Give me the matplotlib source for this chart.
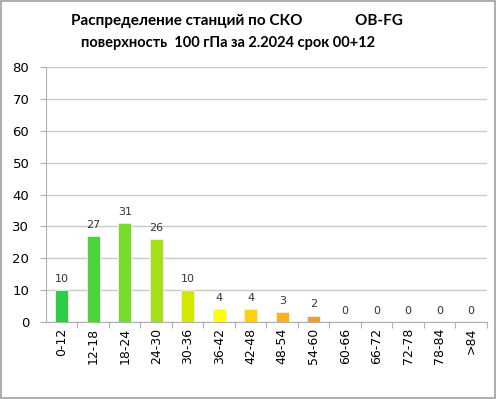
import matplotlib.pyplot as plt

categories = ["0-12", "12-18", "18-24", "24-30", "30-36", "36-42", "42-48",
              "48-54", "54-60", "60-66", "66-72", "72-78", "78-84", ">84"]
counts = [10, 27, 31, 26, 10, 4, 4, 3, 2, 0, 0, 0, 0, 0]
colors = ["#2ecc47", "#4cd43c", "#77dd2a", "#a3e01a", "#d4e800", "#ffff00",
          "#ffd010", "#ffb020", "#ff9a2a", "#ff7a30", "#ff5a30", "#ff3a30",
          "#f02020", "#e01010"]

fig = plt.figure(figsize=(4.96, 3.99), dpi=100)
ax = fig.add_axes([0.0927, 0.193, 0.889, 0.639])

x = range(len(categories))
ax.bar(x, counts, width=0.42, color=colors, edgecolor="#f0f0f0", linewidth=0.6, zorder=3)
for i, v in enumerate(counts):
    ax.text(i, v + 2, str(v), ha="center", va="bottom", fontsize=8, color="#333333")

ax.set_xlim(-0.5, len(categories) - 0.5)
ax.set_ylim(0, 80)
ax.set_yticks(range(0, 81, 10))
ax.set_xticks([i + 0.5 for i in x], minor=False)
ax.set_xticklabels([])
ax.set_xticks(list(x), minor=True)
ax.set_xticklabels(categories, minor=True, rotation=90, fontsize=9)
ax.tick_params(axis="x", which="minor", length=0, pad=4)
ax.tick_params(axis="x", which="major", length=4, direction="out", color="#b0b0b0")
ax.tick_params(axis="y", length=4, color="#b0b0b0", labelsize=9.5, pad=8)

ax.grid(axis="y", color="#c8c8c8", linewidth=1, zorder=0)
for s in ["top", "right"]:
    ax.spines[s].set_visible(False)
ax.spines["left"].set_color("#b0b0b0")
ax.spines["bottom"].set_color("#b0b0b0")

fig.text(0.477, 0.948, "Распределение станций по СКО              OB-FG",
         ha="center", va="center", fontsize=11, fontweight="bold", family="Lato")
fig.text(0.46, 0.892, "поверхность  100 гПа за 2.2024 срок 00+12",
         ha="center", va="center", fontsize=10.5, fontweight="bold", family="Lato")

border = plt.Rectangle((0.002, 0.003), 0.996, 0.994, transform=fig.transFigure,
                       fill=False, edgecolor="#a0a0a0", linewidth=1.2)
fig.patches.append(border)

fig.savefig("out.png", dpi=100)
